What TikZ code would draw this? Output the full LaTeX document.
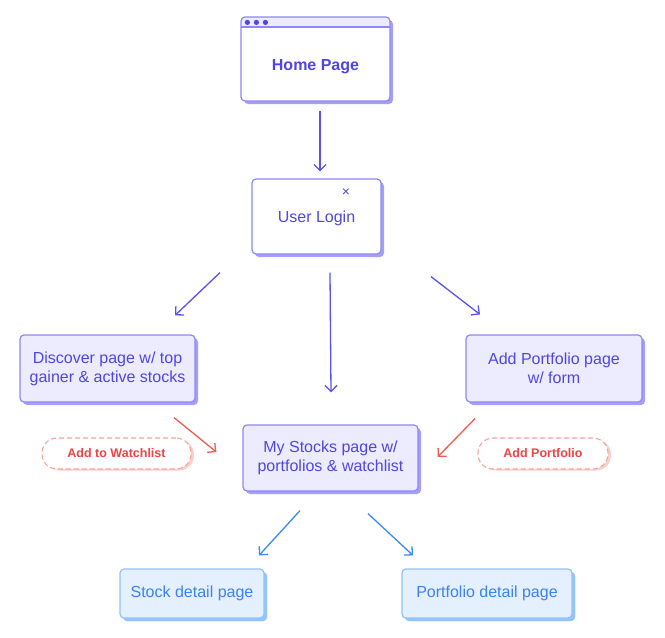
\documentclass[tikz,border=0pt]{standalone}
\usepackage{fontspec}
\setmainfont{Liberation Sans}
\usetikzlibrary{arrows.meta,calc,shadows}
\definecolor{sfink}{HTML}{4F46E5}
\definecolor{sfline}{HTML}{5B50F0}
\definecolor{sfborder}{HTML}{8E87F5}
\definecolor{sfpale}{HTML}{EDEBFE}
\definecolor{sfshade}{HTML}{A5A0F7}
\definecolor{sfred}{HTML}{EF4444}
\definecolor{sfredline}{HTML}{F05A50}
\definecolor{sfredsoft}{HTML}{F5A39C}
\definecolor{sfredshade}{HTML}{FBCFCB}
\definecolor{sfblue}{HTML}{3B82F6}
\definecolor{sfblueline}{HTML}{3C8BF2}
\definecolor{sfbluepale}{HTML}{E4F0FE}
\definecolor{sfblueborder}{HTML}{93C1F8}
\definecolor{sfblueshade}{HTML}{93C5FD}
\tikzset{
  sf text/.style={font=\fontsize{16}{19}\selectfont, text=sfink},
  sf box/.style={draw=sfborder, line width=1.2pt, rounded corners=4pt, fill=sfpale,
    inner sep=0pt, align=center, text=sfink,
    drop shadow={shadow xshift=3pt, shadow yshift=-3pt, fill=sfshade, opacity=1}},
  sf white/.style={sf box, fill=white},
  sf detail/.style={sf box, draw=sfblueborder, fill=sfbluepale, text=sfblue,
    drop shadow={shadow xshift=3pt, shadow yshift=-3pt, fill=sfblueshade, opacity=1}},
  sf pill/.style={draw=sfredsoft, line width=1.1pt, dash pattern=on 5pt off 3pt,
    rounded corners=15pt, fill=white, inner sep=0pt, text=sfred,
    font=\fontsize{12.5}{14}\selectfont\bfseries,
    drop shadow={shadow xshift=3pt, shadow yshift=-1.5pt, fill=sfredshade, opacity=1}},
  sf arrow/.style={-{Straight Barb[length=6pt,width=12pt]}, line width=1.3pt, draw=sfline},
  sf red arrow/.style={sf arrow, draw=sfredline},
  sf blue arrow/.style={sf arrow, draw=sfblueline}
}
\begin{document}
\begin{tikzpicture}[sf text, x=1pt, y=-1pt]
  \useasboundingbox[fill=white] (0,0) rectangle (665,638);
  \node[sf white, minimum width=149pt, minimum height=84pt,
    path picture={
      \fill[sfpale] (path picture bounding box.north west) rectangle ([yshift=-10pt]path picture bounding box.north east);
      \draw[sfborder, line width=1.2pt] ([yshift=-10pt]path picture bounding box.north west) -- ([yshift=-10pt]path picture bounding box.north east);
    }] (home) at (315.5,59) {};
  \foreach \k in {0,1,2} {\fill[sfink] ($(home.north west)+(7+9*\k,6)$) circle (2.6);}
  \node[font=\fontsize{16}{19}\selectfont\bfseries] (hometitle) at ($(home.center)+(0,8)$) {Home Page};
  \node[sf white, minimum width=129pt, minimum height=75pt] (login) at (316.5,216.5) {};
  \node (logintitle) at ($(login.center)+(0,1.5)$) {User Login};
  \node[font=\fontsize{14}{14}\selectfont, text=sfink] (close) at (346,193) {×};
  \node[sf box, minimum width=175pt, minimum height=67pt] (discover) at (107.5,368.5) {Discover page w/ top\\gainer \& active stocks};
  \node[sf box, minimum width=176pt, minimum height=67pt] (addport) at (554,368.5) {Add Portfolio page\\w/ form};
  \node[sf box, minimum width=175pt, minimum height=66pt] (mystocks) at (330.5,458) {My Stocks page w/\\portfolios \& watchlist};
  \node[sf pill, minimum width=149pt, minimum height=31pt] (watch) at (116.5,453.5) {Add to Watchlist};
  \node[sf pill, minimum width=130pt, minimum height=31pt] (addpill) at (543,453.5) {Add Portfolio};
  \node[sf detail, minimum width=144pt, minimum height=49pt] (stockdet) at (192,593.5) {Stock detail page};
  \node[sf detail, minimum width=170pt, minimum height=49pt] (portdet) at (487,593.5) {Portfolio detail page};
  \draw[sf arrow] ($(home.south)+(4.5,9)$) -- ($(login.north)+(3.5,-7)$);
  \draw[sf arrow] ($(login.south)+(-96.5,18)$) -- ($(discover.north)+(67.5,-19)$);
  \draw[sf arrow] ($(login.south)+(13.5,18)$) -- ($(mystocks.north)+(0.5,-32)$);
  \draw[sf arrow] ($(login.south)+(114.5,22)$) -- ($(addport.north)+(-74,-20)$);
  \draw[sf red arrow] ($(discover.south)+(66.5,15)$) -- ($(mystocks.west)+(-26,-6)$);
  \draw[sf red arrow] ($(addport.south)+(-79,16)$) -- ($(mystocks.east)+(19,-1)$);
  \draw[sf blue arrow] ($(mystocks.south)+(-30.5,19)$) -- ($(stockdet.north)+(67,-13)$);
  \draw[sf blue arrow] ($(mystocks.south)+(37.5,22)$) -- ($(portdet.north)+(-74,-13)$);
\end{tikzpicture}
\end{document}
